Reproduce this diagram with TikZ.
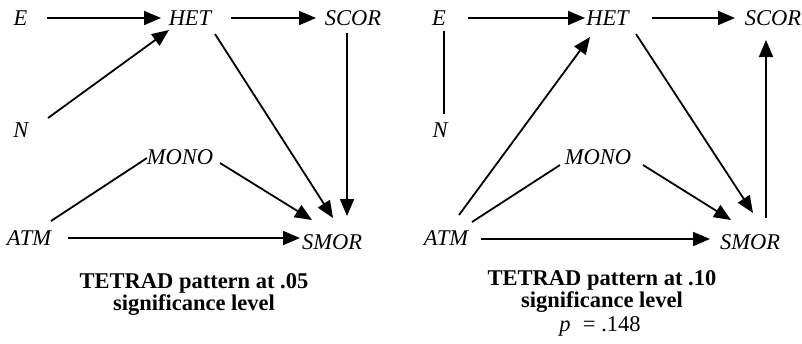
\documentclass[tikz,border=0pt]{standalone}
\usepackage{fontspec}
\setmainfont{Liberation Serif}
\usetikzlibrary{arrows.meta,calc}
\begin{document}
\begin{tikzpicture}[x=1pt,y=-1pt,
  var/.style={font=\fontsize{22.5}{24}\selectfont\itshape, inner sep=0pt, text height=15pt, text depth=0pt},
  captxt/.style={font=\fontsize{22.5}{22}\selectfont\bfseries, align=center, inner sep=0pt},
  link/.style={line width=1.8pt},
  arr/.style={link, -{Triangle[length=17pt,width=14pt]}}]
\path[use as bounding box] (0,0) rectangle (802,343);
% ---------- left panel ----------
\node[var] (E1) at (20.5,18) {E};
\node[var] (HET1) at (190,18) {HET};
\node[var] (SCOR1) at (353,18) {SCOR};
\node[var] (N1) at (21,130) {N};
\node[var] (MONO1) at (180,157) {MONO};
\node[var] (ATM1) at (29,238) {ATM};
\node[var] (SMOR1) at (332,242) {SMOR};
\node[captxt] (cap1) at (194,294) {TETRAD pattern at .05\\significance level};
\draw[arr] ($(E1)+(26.5,0)$) -- ($(HET1)+(-29,0)$);
\draw[arr] ($(HET1)+(41,0)$) -- ($(SCOR1)+(-37,0)$);
\draw[arr] ($(N1)+(27,-12)$) -- ($(HET1)+(-21,12)$);
\draw[arr] ($(HET1)+(25,16)$) -- ($(SMOR1)+(1,-24)$);
\draw[arr] ($(SCOR1)+(-6,15)$) -- ($(SMOR1)+(15,-26)$);
\draw[link] ($(ATM1)+(22,-17)$) -- ($(MONO1)+(-33,1)$);
\draw[arr] ($(MONO1)+(40,6)$) -- ($(SMOR1)+(-20,-22)$);
\draw[arr] ($(ATM1)+(39,0)$) -- ($(SMOR1)+(-32,-4)$);
% ---------- right panel ----------
\node[var] (E2) at (439,18) {E};
\node[var] (HET2) at (607.5,18) {HET};
\node[var] (SCOR2) at (773,18) {SCOR};
\node[var] (N2) at (440,130) {N};
\node[var] (MONO2) at (598,157) {MONO};
\node[var] (ATM2) at (446,238) {ATM};
\node[var] (SMOR2) at (750,242) {SMOR};
\node[captxt] (cap2) at (602,291) {TETRAD pattern at .10\\significance level};
\node[font=\fontsize{22.5}{24}\selectfont, inner sep=0pt] (pval) at (600,326) {{\itshape p}\hspace{0.55em}= .148};
\draw[link] ($(E2)+(5,13)$) -- ($(N2)+(4,-16)$);
\draw[arr] ($(E2)+(29,0)$) -- ($(HET2)+(-22.5,0)$);
\draw[arr] ($(HET2)+(44.5,0)$) -- ($(SCOR2)+(-38,0)$);
\draw[arr] ($(HET2)+(28.5,16)$) -- ($(SMOR2)+(3,-29)$);
\draw[arr] ($(SMOR2)+(16,-24)$) -- ($(SCOR2)+(-7,22)$);
\draw[arr] ($(ATM2)+(13,-23)$) -- ($(HET2)+(-17.5,19)$);
\draw[link] ($(ATM2)+(26,-16)$) -- ($(MONO2)+(-38,8)$);
\draw[arr] ($(MONO2)+(45,8)$) -- ($(SMOR2)+(-19,-22)$);
\draw[arr] ($(ATM2)+(35,1)$) -- ($(SMOR2)+(-40,-3)$);
\end{tikzpicture}
\end{document}
